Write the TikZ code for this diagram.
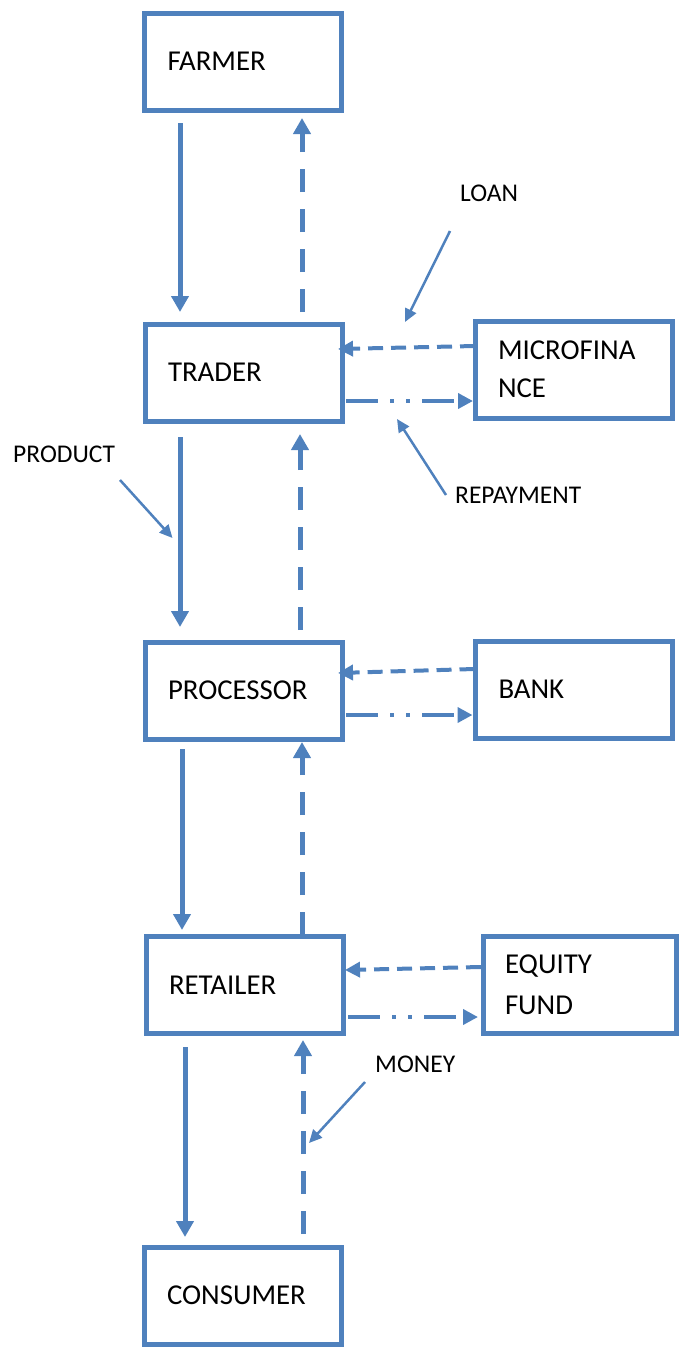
\documentclass[tikz,border=0pt]{standalone}
\usepackage{fontspec}
\setmainfont{Carlito}
\usetikzlibrary{arrows.meta,calc}
\definecolor{officeblue}{RGB}{79,129,189}
\tikzset{
  box/.style={draw=officeblue, line width=5pt, rectangle, outer sep=0pt,
    minimum width=197pt, minimum height=97pt, text width=151pt, align=left,
    inner xsep=23pt, inner ysep=0pt, font=\fontsize{28.8}{38}\selectfont},
  lbl/.style={inner sep=0pt, anchor=base west, font=\fontsize{25.5}{30}\selectfont},
  goods/.style={draw=officeblue, line width=5pt,
    -{Triangle[width=17pt,length=16pt]}, fill=officeblue},
  cash/.style={draw=officeblue, line width=5pt, dash pattern=on 23pt off 17pt,
    -{Triangle[width=17pt,length=16pt]}},
  credit/.style={draw=officeblue, line width=4pt, dash pattern=on 15pt off 8pt,
    -{Triangle[width=15pt,length=15pt]}},
  repay/.style={draw=officeblue, line width=4pt,
    dash pattern=on 32pt off 12pt on 4pt off 12pt on 4pt off 12pt,
    -{Triangle[width=15pt,length=15pt]}},
  pointer/.style={draw=officeblue, line width=2.5pt,
    -{Triangle[width=12pt,length=13pt]}}
}
\begin{document}
\begin{tikzpicture}[x=1pt,y=-1pt]
\useasboundingbox (0,0) rectangle (679,1349);

% value chain
\node[box] (farmer)    at (243,61.5)    {FARMER};
\node[box] (trader)    at (243.5,372.5) {TRADER};
\node[box] (processor) at (243.5,690.5) {PROCESSOR};
\node[box] (retailer)  at (244.5,985)   {RETAILER};
\node[box] (consumer)  at (242.5,1295.5){CONSUMER};

% financiers
\node[box] (mfi)    at (573.5,369.5) {MICROFINA\\NCE};
\node[box] (bank)   at (574,689.5)   {BANK};
\node[box, minimum width=193pt, text width=149pt, inner xsep=22pt,
      font=\fontsize{28.8}{41}\selectfont]
           (equity) at (579.5,984.5) {EQUITY\\FUND};

% product flow (down)
\draw[goods] ($(farmer.south west)+(35.5,13)$)    -- ($(trader.north west)+(35,-12)$);
\draw[goods] ($(trader.south west)+(35,16)$)      -- ($(processor.north west)+(35,-15)$);
\draw[goods] ($(processor.south west)+(37,10)$)   -- ($(retailer.north west)+(36,-6.5)$);
\draw[goods] ($(retailer.south west)+(39,13.5)$)  -- ($(consumer.north west)+(41,-10)$);

% money flow (up)
\draw[cash] ($(trader.north west)+(157,-12)$)     -- ($(farmer.south west)+(157.5,8)$);
\draw[cash] ($(processor.north west)+(155,-12)$)  -- ($(trader.south west)+(155,13)$);
\draw[cash] ($(retailer.north west)+(156,-1.5)$)  -- ($(processor.south west)+(157,3)$);
\draw[cash] ($(consumer.north west)+(159,-13)$)   -- ($(retailer.south west)+(157,6.5)$);

% loans and repayments
\draw[credit] ($(mfi.west)+(0,-23.5)$)     -- ($(trader.east)+(-4,-23.5)$);
\draw[repay]  ($(trader.east)+(4,28.5)$)   -- ($(mfi.west)+(-2,31.5)$);
\draw[credit] ($(bank.west)+(-1,-20.5)$)   -- ($(processor.east)+(-4,-17.5)$);
\draw[repay]  ($(processor.east)+(4,24.5)$) -- ($(bank.west)+(-3,25.5)$);
\draw[credit] ($(equity.west)+(-2,-17.5)$) -- ($(retailer.east)+(2,-15)$);
\draw[repay]  ($(retailer.east)+(5,32)$)   -- ($(equity.west)+(-5,32.5)$);

% annotations
\node[lbl] (loanlbl)    at (460,201.7) {LOAN};
\node[lbl] (productlbl) at (13,462)    {PRODUCT};
\node[lbl] (repaylbl)   at (455,503)   {REPAYMENT};
\node[lbl] (moneylbl)   at (375,1072)  {MONEY};

\coordinate (loanfrom)    at (450,231);
\coordinate (loanto)      at (405,322);
\coordinate (repayfrom)   at (446,495);
\coordinate (repayto)     at (397,419);
\coordinate (productfrom) at (120,480);
\coordinate (productto)   at (172.5,538);
\coordinate (moneyfrom)   at (365,1082);
\coordinate (moneyto)     at (309,1143);

\draw[pointer] (loanfrom)    -- (loanto);
\draw[pointer] (repayfrom)   -- (repayto);
\draw[pointer] (productfrom) -- (productto);
\draw[pointer] (moneyfrom)   -- (moneyto);
\end{tikzpicture}
\end{document}
